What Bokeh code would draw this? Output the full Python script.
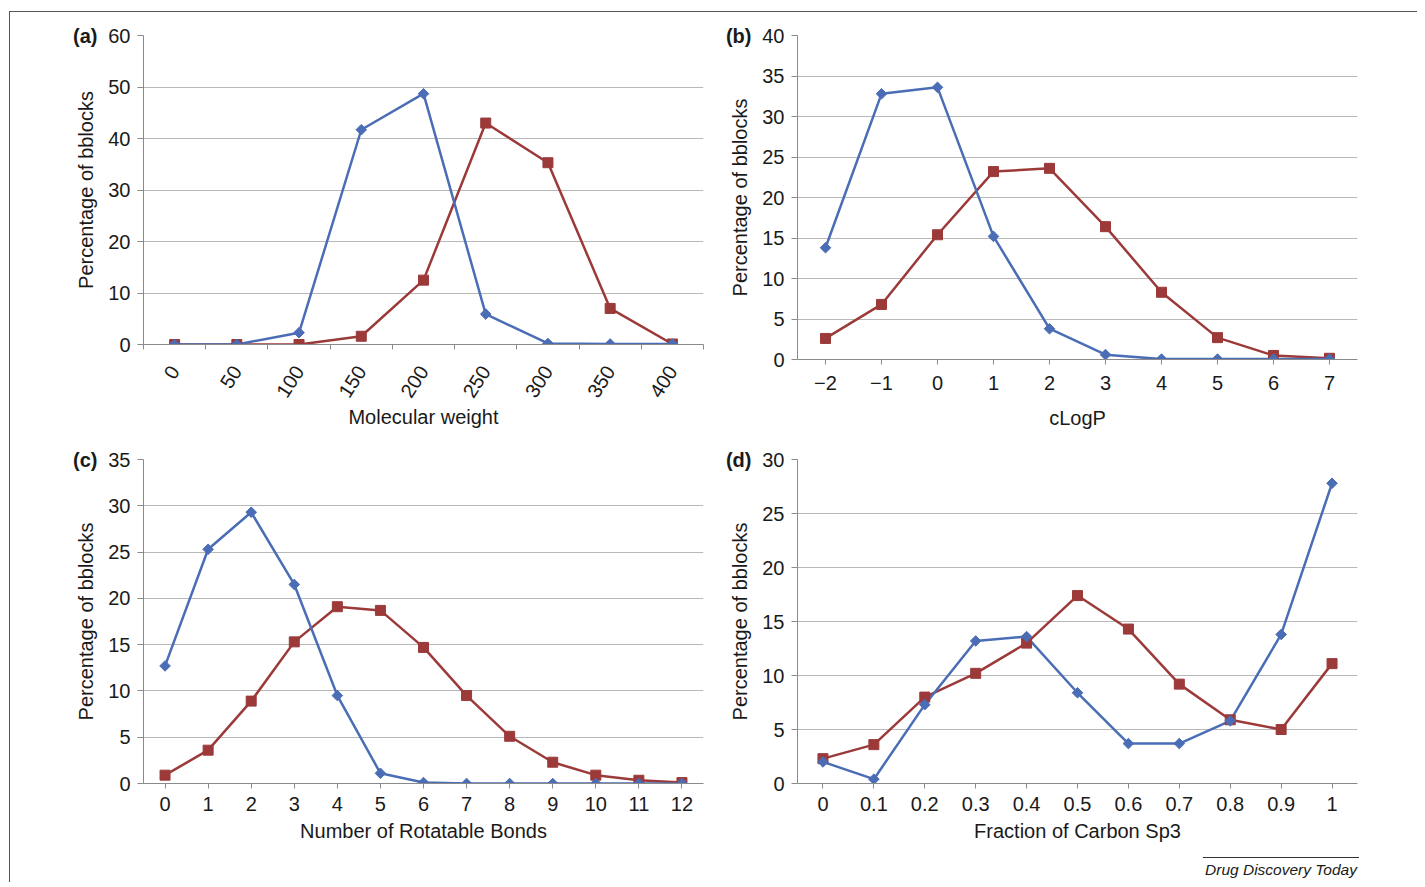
import math
from bokeh.plotting import figure
from bokeh.models import Range1d, FixedTicker, LinearAxis, Div, Spacer
from bokeh.layouts import row, column
from bokeh.embed import file_html
from bokeh.resources import INLINE

FONT = "Liberation Sans"
BLUE = "#4a6db5"
RED = "#9c3a3a"
GRID = "#b8b8b8"
AXIS = "#8a8a8a"
TXT = "#1a1a1a"

# (a) Molecular weight
mw_labels = ["0", "50", "100", "150", "200", "250", "300", "350", "400"]
mw_blue = [0.0, 0.0, 2.3, 41.7, 48.7, 5.9, 0.2, 0.1, 0.1]
mw_red = [0.0, 0.0, 0.0, 1.6, 12.5, 43.0, 35.3, 7.0, 0.1]
mw_yticks = [0, 10, 20, 30, 40, 50, 60]

# (b) cLogP
lp_labels = ["\u22122", "\u22121", "0", "1", "2", "3", "4", "5", "6", "7"]
lp_blue = [13.8, 32.8, 33.6, 15.2, 3.8, 0.6, 0.05, 0.05, 0.05, 0.05]
lp_red = [2.6, 6.8, 15.4, 23.2, 23.6, 16.4, 8.3, 2.7, 0.5, 0.15]
lp_yticks = [0, 5, 10, 15, 20, 25, 30, 35, 40]

# (c) Rotatable bonds
rb_labels = ["0", "1", "2", "3", "4", "5", "6", "7", "8", "9", "10", "11", "12"]
rb_blue = [12.7, 25.3, 29.3, 21.5, 9.5, 1.1, 0.1, 0.0, 0.0, 0.0, 0.0, 0.0, 0.0]
rb_red = [0.9, 3.6, 8.9, 15.3, 19.1, 18.7, 14.7, 9.5, 5.1, 2.3, 0.9, 0.35, 0.1]
rb_yticks = [0, 5, 10, 15, 20, 25, 30, 35]

# (d) Fraction of Carbon Sp3
fc_labels = ["0", "0.1", "0.2", "0.3", "0.4", "0.5", "0.6", "0.7", "0.8", "0.9", "1"]
fc_blue = [2.0, 0.4, 7.3, 13.2, 13.6, 8.4, 3.7, 3.7, 5.8, 13.8, 27.8]
fc_red = [2.3, 3.6, 8.0, 10.2, 13.0, 17.4, 14.3, 9.2, 5.9, 5.0, 11.1]
fc_yticks = [0, 5, 10, 15, 20, 25, 30]


def panel(labels, blue, red, yticks, xtitle, tag, width, height,
          bl, br, bt, bb, lab_standoff, title_standoff, rotate=None):
    n = len(labels)
    xs = list(range(n))
    p = figure(width=width, height=height,
               x_range=Range1d(-0.5, n - 0.5),
               y_range=Range1d(yticks[0], yticks[-1]),
               output_backend="svg", toolbar_location=None,
               min_border_left=bl, min_border_right=br,
               min_border_top=bt, min_border_bottom=bb)
    p.outline_line_color = None
    p.background_fill_color = "white"
    p.border_fill_color = "white"
    p.xgrid.visible = False
    p.ygrid.grid_line_color = GRID
    p.ygrid.grid_line_width = 1
    p.ygrid.ticker = FixedTicker(ticks=yticks)

    ya = p.yaxis[0]
    ya.ticker = FixedTicker(ticks=yticks)
    ya.axis_line_color = AXIS
    ya.major_tick_line_color = AXIS
    ya.major_tick_out = 6
    ya.major_tick_in = 0
    ya.minor_tick_line_color = None
    ya.major_label_standoff = 7
    ya.major_label_text_font = FONT
    ya.major_label_text_font_size = "20px"
    ya.major_label_text_color = TXT
    ya.axis_label = "Percentage of bblocks"
    ya.axis_label_text_font = FONT
    ya.axis_label_text_font_size = "20px"
    ya.axis_label_text_font_style = "normal"
    ya.axis_label_text_color = TXT
    ya.axis_label_standoff = 8

    # outer axis that only carries the panel tag beside the top tick
    tag_axis = LinearAxis(ticker=FixedTicker(ticks=[yticks[-1]]),
                          major_label_overrides={yticks[-1]: tag},
                          axis_line_color=None, major_tick_line_color=None,
                          minor_tick_line_color=None,
                          major_tick_out=0, major_tick_in=0,
                          major_label_standoff=-25,
                          major_label_text_font=FONT,
                          major_label_text_font_size="20px",
                          major_label_text_font_style="bold",
                          major_label_text_color=TXT)
    p.add_layout(tag_axis, "left")

    xa = p.xaxis[0]
    if rotate is None:
        xa.ticker = FixedTicker(ticks=xs)
        xa.major_tick_out = 5
        xa.minor_tick_line_color = None
    else:
        xa.ticker = FixedTicker(ticks=xs, minor_ticks=[i - 0.5 for i in range(n + 1)])
        xa.major_tick_out = 0
        xa.minor_tick_out = 5
        xa.minor_tick_line_color = AXIS
        xa.major_label_orientation = rotate
    xa.major_label_standoff = lab_standoff
    xa.major_tick_in = 0
    xa.axis_line_color = AXIS
    xa.major_tick_line_color = AXIS
    xa.major_label_overrides = {i: lab for i, lab in enumerate(labels)}
    xa.major_label_text_font = FONT
    xa.major_label_text_font_size = "20px"
    xa.major_label_text_color = TXT
    xa.axis_label = xtitle
    xa.axis_label_text_font = FONT
    xa.axis_label_text_font_size = "20px"
    xa.axis_label_text_font_style = "normal"
    xa.axis_label_text_color = TXT
    xa.axis_label_standoff = title_standoff

    p.line(xs, red, line_color=RED, line_width=2.5)
    p.line(xs, blue, line_color=BLUE, line_width=2.5)
    p.scatter(xs, red, marker="square", size=10, fill_color=RED, line_color=RED)
    p.scatter(xs, blue, marker="square", angle=math.pi / 4, size=7.5,
              fill_color=BLUE, line_color=BLUE)
    return p


pa = panel(mw_labels, mw_blue, mw_red, mw_yticks, "Molecular weight", "(a)",
           710, 428, 133, 17, 23, 96, 18, 0, rotate=1.0)
pb = panel(lp_labels, lp_blue, lp_red, lp_yticks, "cLogP", "(b)",
           697, 428, 77, 60, 23, 81, 11, 14)
pc = panel(rb_labels, rb_blue, rb_red, rb_yticks, "Number of Rotatable Bonds", "(c)",
           710, 412, 133, 17, 19, 69, 8, 6)
pd = panel(fc_labels, fc_blue, fc_red, fc_yticks, "Fraction of Carbon Sp3", "(d)",
           697, 412, 77, 60, 19, 69, 8, 6)

footer = Div(text="Drug Discovery Today", width=156, height=20,
             styles={"border-top": "1px solid #333", "font-family": FONT,
                     "font-style": "italic", "font-size": "15.5px", "color": TXT,
                     "text-align": "center", "padding-top": "1px",
                     "box-sizing": "border-box"})

layout = column(row(column(pa), column(pb)), row(column(pc), column(pd)),
                row(Spacer(width=1188, height=20), footer),
                styles={"border-top": "1px solid #555", "border-left": "1px solid #555",
                        "margin-top": "11px", "margin-left": "9px"})

open("out.html", "w").write(file_html(layout, INLINE))
